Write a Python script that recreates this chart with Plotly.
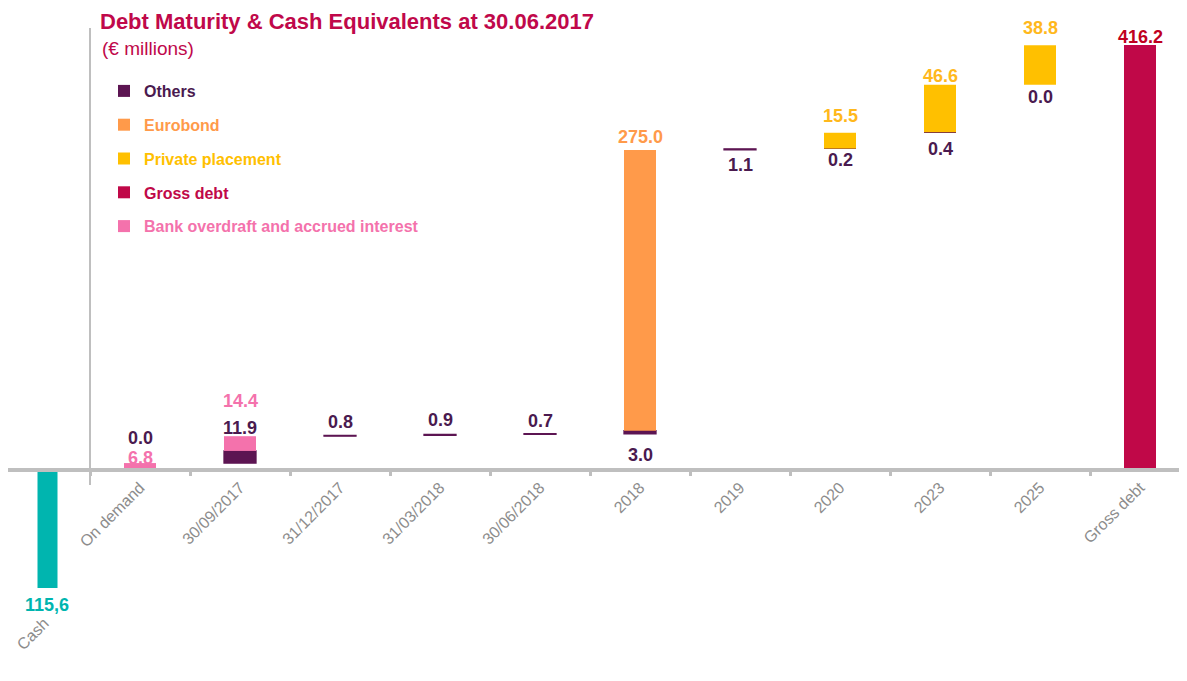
import plotly.graph_objects as go

# ---------------- data ----------------
categories = ["Cash", "On demand", "30/09/2017", "31/12/2017", "31/03/2018",
              "30/06/2018", "2018", "2019", "2020", "2023", "2025", "Gross debt"]
tick_labels = ["", "On demand", "30/09/2017", "31/12/2017", "31/03/2018",
               "30/06/2018", "2018", "2019", "2020", "2023", "2025", "Gross debt"]
cash = [-115.6, None, None, None, None, None, None, None, None, None, None, None]
others = [None, 0.0, 11.9, 0.8, 0.9, 0.7, 3.0, 1.1, 0.2, 0.4, 0.0, None]
bank_overdraft = [None, 6.8, 14.4, None, None, None, None, None, None, None, None, None]
eurobond = [None, None, None, None, None, None, 275.0, None, None, None, None, None]
private_placement = [None, None, None, None, None, None, None, None, 15.5, 46.6, 38.8, None]
gross_debt = [None, None, None, None, None, None, None, None, None, None, None, 416.2]

# ---------------- styles ----------------
FONT = "Liberation Sans"
C_OTHERS = "#5C1552"
C_OTHERS_TXT = "#4A1A4F"
C_EURO = "#FF9A4A"
C_PP = "#FFC000"
C_PP_TXT = "#FFB81C"
C_GROSS = "#C00848"
C_GROSS_TXT = "#C00020"
C_BANK = "#F472AC"
C_CASH = "#00B5AF"
C_AXIS = "#BFBFBF"
C_TICK = "#8C8C8C"
TITLE_C = "#C0084A"

OFF = 8  # page body margin
W, H = 1187 - OFF, 681 - OFF
ML, MR = 0, 0
MT = 28 - OFF
MB = H - (600 - OFF)
PX_PER_UNIT = 1.021
BASE_PX = 470 - OFF  # pixel row of y=0 inside the figure
y_max = (BASE_PX - MT) / PX_PER_UNIT
y_min = -((H - MB) - BASE_PX) / PX_PER_UNIT
x_range = [-0.32, 11.47]
plot_w = W - ML - MR
plot_h = H - MT - MB

def px_to_paper_x(px):  # px in screenshot coordinates
    return (px - OFF - ML) / plot_w

def px_to_paper_y(py):
    return ((H - MB) - (py - OFF)) / plot_h

n = len(categories)
series = {"others": others, "bank": bank_overdraft, "eurobond": eurobond, "pp": private_placement}
order = ["others", "bank", "eurobond", "pp"]
bases = {k: [None] * n for k in series}
stack_top = [None] * n
running = 0.0
for i in range(n):
    if categories[i] in ("Cash", "Gross debt"):
        continue
    for k in order:
        v = series[k][i]
        if v is None:
            continue
        bases[k][i] = running
        running += v
    stack_top[i] = running

fig = go.Figure()

def span(name, color):
    return f"<span style='color:{color}'><b>{name}</b></span>"

others_lw = [1.3 if (v is not None and v >= 0.5) else 0 for v in others]
fig.add_trace(go.Bar(x=categories, y=others, base=bases["others"], width=0.32,
                     marker=dict(color=C_OTHERS, line=dict(color=C_OTHERS, width=others_lw)),
                     name=span("Others", C_OTHERS_TXT), legendgroup="a"))
fig.add_trace(go.Bar(x=categories, y=eurobond, base=bases["eurobond"], width=0.32,
                     marker=dict(color=C_EURO, line=dict(width=0)),
                     name=span("Eurobond", C_EURO), legendgroup="b"))
fig.add_trace(go.Bar(x=categories, y=private_placement, base=bases["pp"], width=0.32,
                     marker=dict(color=C_PP, line=dict(width=0)),
                     name=span("Private placement", C_PP), legendgroup="c"))
fig.add_trace(go.Bar(x=categories, y=gross_debt, width=0.32,
                     marker=dict(color=C_GROSS, line=dict(width=0)),
                     name=span("Gross debt", C_GROSS), legendgroup="d"))
fig.add_trace(go.Bar(x=categories, y=bank_overdraft, base=bases["bank"], width=0.32,
                     marker=dict(color=C_BANK, line=dict(width=0)),
                     name=span("Bank overdraft and accrued interest", C_BANK), legendgroup="e"))
fig.add_trace(go.Bar(x=categories, y=cash, width=0.2, offset=-0.025,
                     marker=dict(color=C_CASH, line=dict(width=0)),
                     showlegend=False))

# ---------------- value labels ----------------
# (series, category index) -> (reference, pixel shift up)
label_place = {
    ("bank", 1): ("top", 5), ("others", 1): ("top", 25),
    ("others", 2): ("top", 8), ("bank", 2): ("top", 35),
    ("others", 3): ("top", 13), ("others", 4): ("top", 14), ("others", 5): ("top", 13),
    ("others", 6): ("base", -21), ("eurobond", 6): ("top", 13),
    ("others", 7): ("base", -15),
    ("others", 8): ("base", -11), ("pp", 8): ("top", 17),
    ("others", 9): ("base", -16), ("pp", 9): ("top", 9),
    ("others", 10): ("base", -12), ("pp", 10): ("top", 17),
}
label_color = {"others": C_OTHERS_TXT, "bank": C_BANK, "eurobond": C_EURO, "pp": C_PP_TXT}

anns = []
for (k, i), (ref, shift) in label_place.items():
    v = series[k][i]
    yref_val = stack_top[i] if ref == "top" else bases[k][i]
    anns.append(dict(x=i, y=yref_val, xref="x", yref="y", text=f"<b>{v:.1f}</b>",
                     showarrow=False, yanchor="middle", yshift=shift,
                     font=dict(family=FONT, size=18, color=label_color[k])))
# gross debt
anns.append(dict(x=11, y=gross_debt[11], xref="x", yref="y",
                 text=f"<b>{gross_debt[11]:.1f}</b>", showarrow=False, yanchor="middle", yshift=8,
                 font=dict(family=FONT, size=18, color=C_GROSS_TXT)))
# cash
anns.append(dict(x=0, y=cash[0], xref="x", yref="y", xshift=7,
                 text="<b>" + f"{abs(cash[0]):.1f}".replace(".", ",") + "</b>",
                 showarrow=False, yanchor="middle", yshift=-17,
                 font=dict(family=FONT, size=18, color=C_CASH)))
anns.append(dict(x=0, y=cash[0], xref="x", yref="y", xshift=-8,
                 text="Cash", textangle=-45, showarrow=False, yanchor="middle", yshift=-46,
                 font=dict(family=FONT, size=16, color=C_TICK)))
# subtitle
anns.append(dict(x=px_to_paper_x(100), y=px_to_paper_y(48), xref="paper", yref="paper",
                 text="(€ millions)", showarrow=False, xanchor="left", yanchor="middle",
                 font=dict(family=FONT, size=19, color=TITLE_C)))

zero_pos = (0 - y_min) / (y_max - y_min)

fig.update_layout(
    width=W, height=H,
    margin=dict(l=ML, r=MR, t=MT, b=MB, autoexpand=False),
    paper_bgcolor="white", plot_bgcolor="white",
    barmode="overlay",
    font=dict(family=FONT),
    title=dict(text="Debt Maturity & Cash Equivalents at 30.06.2017",
               font=dict(family=FONT, size=22, color=TITLE_C, weight="bold"),
               x=(100 - OFF) / W, xanchor="left", y=1 - (21 - OFF) / H, yanchor="middle"),
    showlegend=True,
    legend=dict(x=px_to_paper_x(104), y=px_to_paper_y(74),
                xanchor="left", yanchor="top", tracegroupgap=10,
                font=dict(family=FONT, size=16), bgcolor="rgba(0,0,0,0)"),
    xaxis=dict(type="category", categoryorder="array", categoryarray=categories,
               range=x_range, tickmode="array", tickvals=categories, ticktext=tick_labels,
               tickangle=-45, tickfont=dict(family=FONT, size=16, color=C_TICK),
               showline=True, linecolor=C_AXIS, linewidth=4,
               ticks="outside", ticklen=4, tickwidth=3, tickcolor=C_AXIS, tickson="boundaries",
               showgrid=False, zeroline=False, anchor="free", position=zero_pos),
    yaxis=dict(range=[y_min, y_max], visible=False, showgrid=False, zeroline=False),
    annotations=anns,
    shapes=[dict(type="line", xref="x", yref="y", x0=0.5, x1=0.5, y0=-14.7, y1=y_max,
                 line=dict(color=C_AXIS, width=2), layer="below")],
)

fig.write_html("out.html")
